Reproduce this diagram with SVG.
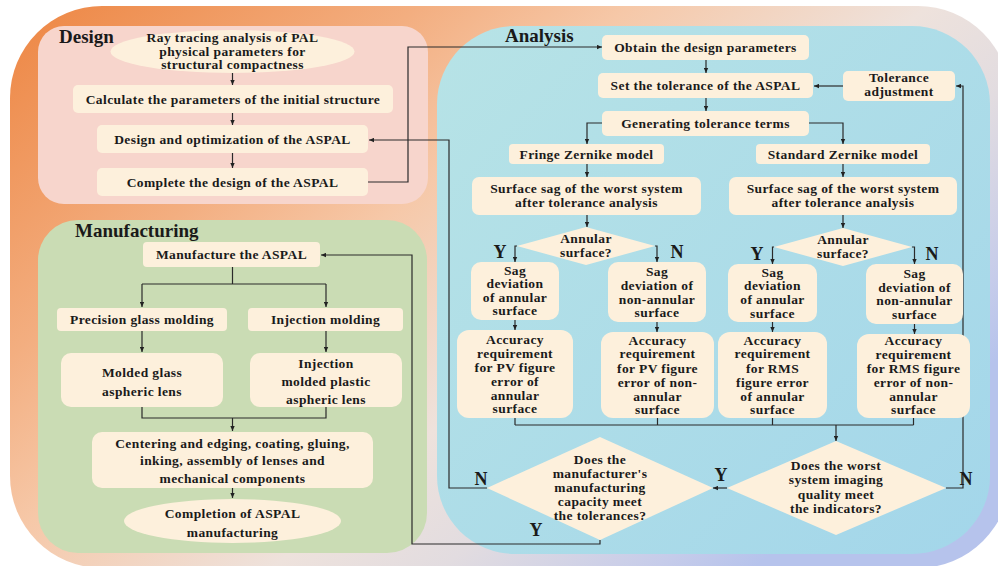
<svg xmlns="http://www.w3.org/2000/svg" width="998" height="566" viewBox="0 0 998 566">
<defs>
<linearGradient id="bg" gradientUnits="userSpaceOnUse" x1="0" y1="0" x2="600" y2="700">
<stop offset="0" stop-color="#ED8440"/>
<stop offset="0.3" stop-color="#F3AE80"/>
<stop offset="0.45" stop-color="#F6C8A8"/>
<stop offset="0.66" stop-color="#EEE2DC"/>
<stop offset="0.78" stop-color="#E2DCE0"/>
<stop offset="0.93" stop-color="#C6CCEA"/>
<stop offset="1" stop-color="#B6C3EC"/>
</linearGradient>
<linearGradient id="blue" gradientUnits="userSpaceOnUse" x1="437" y1="26" x2="990" y2="554">
<stop offset="0" stop-color="#B7E3E6"/>
<stop offset="1" stop-color="#A3D6EA"/>
</linearGradient>
<marker id="ah" viewBox="0 0 6 6" refX="6" refY="3" markerWidth="5" markerHeight="5" markerUnits="userSpaceOnUse" orient="auto">
<path d="M0,0.4 L6,3 L0,5.6 z" fill="#222"/>
</marker>
<style>
.nd{fill:#FDF0DC;}
.t{font-family:"Liberation Serif","Times New Roman",serif;font-weight:bold;font-size:13.5px;letter-spacing:0.4px;fill:#1a1a1a;text-anchor:middle;}
.h{font-family:"Liberation Serif","Times New Roman",serif;font-weight:bold;font-size:19px;fill:#1a1a1a;}
.yn{font-family:"Liberation Serif","Times New Roman",serif;font-weight:bold;font-size:18px;fill:#1a1a1a;text-anchor:middle;}
.c{fill:none;stroke:#2a2a2a;stroke-width:1.2;}
.a{fill:none;stroke:#2a2a2a;stroke-width:1.2;marker-end:url(#ah);}
</style>
</defs>

<rect x="10" y="6" width="1000" height="562" rx="92" fill="url(#bg)"/>
<rect id="panel-design" x="38" y="26" width="390" height="178" rx="26" fill="#F7D5CC"/>
<rect id="panel-manufacturing" x="38" y="220" width="389" height="333" rx="40" fill="#CADCB4"/>
<rect id="panel-analysis" x="437" y="26" width="553" height="528" rx="78" fill="url(#blue)"/>

<text class="h" x="59" y="43">Design</text>
<text class="h" x="75" y="237">Manufacturing</text>
<text class="h" x="505" y="42">Analysis</text>

<g id="connectors">
<path class="a" d="M232.5,73 V85"/>
<path class="a" d="M232.5,113 V125"/>
<path class="a" d="M232.5,153 V168"/>
<path class="a" d="M368,182 H408 V47 H602"/>
<path class="a" d="M487,488 H449 V140 H369"/>
<path class="a" d="M600,540 V544 H412 V255 H321"/>
<path class="c" d="M232.5,267 V284 M142,284 H326"/>
<path class="a" d="M142,284 V307"/>
<path class="a" d="M326,284 V307"/>
<path class="a" d="M142,331 V352"/>
<path class="a" d="M326,331 V352"/>
<path class="c" d="M142,407 V418 H326 V407"/>
<path class="a" d="M232.5,418 V431"/>
<path class="a" d="M232.5,488 V498"/>
<path class="a" d="M706,60 V73"/>
<path class="a" d="M706,98 V111"/>
<path class="a" d="M843,86 H814"/>
<path class="a" d="M946,488 H963 V86 H956"/>
<path class="a" d="M602,123 H587 V144"/>
<path class="a" d="M809,123 H843 V144"/>
<path class="a" d="M587,164 V177"/>
<path class="a" d="M843,164 V177"/>
<path class="a" d="M587,215 V227"/>
<path class="a" d="M843,215 V228"/>
<path class="a" d="M517,246 H515 V262"/>
<path class="a" d="M655,246 H657 V262"/>
<path class="a" d="M774,247 H772.5 V264"/>
<path class="a" d="M912,247 H914.5 V264"/>
<path class="a" d="M515,320 V330"/>
<path class="a" d="M657,322 V332"/>
<path class="a" d="M772.5,322 V332"/>
<path class="a" d="M914.5,324 V334"/>
<path class="c" d="M515,418 V425 M657.5,418 V425 M772.5,418 V425 M913.5,418 V425 M515,425 H913.5"/>
<path class="a" d="M836,425 V441"/>
<path class="a" d="M727,488 H713"/>
<text class="yn" x="500" y="258">Y</text>
<text class="yn" x="677" y="258">N</text>
<text class="yn" x="757" y="260">Y</text>
<text class="yn" x="932" y="260">N</text>
<text class="yn" x="481" y="485">N</text>
<text class="yn" x="721" y="481">Y</text>
<text class="yn" x="966" y="485">N</text>
<text class="yn" x="536" y="536">Y</text>
</g>

<g id="ray-tracing">
<ellipse class="nd" cx="232.5" cy="51.5" rx="122" ry="21.5"/>
<text class="t" x="232.5" y="42"><tspan x="232.5">Ray tracing analysis of PAL</tspan><tspan x="232.5" dy="13.5">physical parameters for</tspan><tspan x="232.5" dy="13.5">structural compactness</tspan></text>
</g>
<g id="calculate">
<rect class="nd" x="73" y="85" width="320" height="28" rx="5"/>
<text class="t" x="233" y="103.5">Calculate the parameters of the initial structure</text>
</g>
<g id="design-opt">
<rect class="nd" x="97" y="125" width="271" height="28" rx="5"/>
<text class="t" x="232.5" y="143.5">Design and optimization of the ASPAL</text>
</g>
<g id="complete-design">
<rect class="nd" x="97" y="168" width="271" height="28" rx="5"/>
<text class="t" x="232.5" y="186.5">Complete the design of the ASPAL</text>
</g>

<g id="manufacture">
<rect class="nd" x="143" y="242" width="177" height="25" rx="4"/>
<text class="t" x="231.5" y="259">Manufacture the ASPAL</text>
</g>
<g id="precision">
<rect class="nd" x="57" y="308" width="170" height="23" rx="4"/>
<text class="t" x="142" y="324">Precision glass molding</text>
</g>
<g id="injection">
<rect class="nd" x="248" y="308" width="155" height="23" rx="4"/>
<text class="t" x="325.5" y="324">Injection molding</text>
</g>
<g id="molded-glass">
<rect class="nd" x="61" y="353" width="162" height="54" rx="10"/>
<text class="t" x="142" y="376.5"><tspan x="142">Molded glass</tspan><tspan x="142" dy="19">aspheric lens</tspan></text>
</g>
<g id="molded-plastic">
<rect class="nd" x="250" y="353" width="152" height="54" rx="10"/>
<text class="t" x="326" y="367.5"><tspan x="326">Injection</tspan><tspan x="326" dy="18">molded plastic</tspan><tspan x="326" dy="18">aspheric lens</tspan></text>
</g>
<g id="centering">
<rect class="nd" x="92" y="432" width="281" height="56" rx="10"/>
<text class="t" x="232.5" y="447.5"><tspan x="232.5">Centering and edging, coating, gluing,</tspan><tspan x="232.5" dy="17.5">inking, assembly of lenses and</tspan><tspan x="232.5" dy="17.5">mechanical components</tspan></text>
</g>
<g id="completion">
<ellipse class="nd" cx="232.5" cy="521" rx="108.5" ry="22"/>
<text class="t" x="232.5" y="517.5"><tspan x="232.5">Completion of ASPAL</tspan><tspan x="232.5" dy="19">manufacturing</tspan></text>
</g>

<g id="obtain">
<rect class="nd" x="602" y="35" width="207" height="25" rx="5"/>
<text class="t" x="705.5" y="52">Obtain the design parameters</text>
</g>
<g id="set-tolerance">
<rect class="nd" x="598" y="73" width="215" height="25" rx="5"/>
<text class="t" x="705.5" y="90">Set the tolerance of the ASPAL</text>
</g>
<g id="tolerance-adjust">
<rect class="nd" x="843" y="71" width="112" height="30" rx="5"/>
<text class="t" x="899" y="81.5"><tspan x="899">Tolerance</tspan><tspan x="899" dy="14">adjustment</tspan></text>
</g>
<g id="generating">
<rect class="nd" x="602" y="111" width="207" height="25" rx="5"/>
<text class="t" x="705.5" y="128">Generating tolerance terms</text>
</g>
<g id="fringe">
<rect class="nd" x="509" y="144" width="155" height="20" rx="4"/>
<text class="t" x="586.5" y="158.5">Fringe Zernike model</text>
</g>
<g id="standard">
<rect class="nd" x="756" y="144" width="174" height="20" rx="4"/>
<text class="t" x="843" y="158.5">Standard Zernike model</text>
</g>
<g id="sag-left">
<rect class="nd" x="472" y="177" width="229" height="38" rx="7"/>
<text class="t" x="586.5" y="192.5"><tspan x="586.5">Surface sag of the worst system</tspan><tspan x="586.5" dy="14">after tolerance analysis</tspan></text>
</g>
<g id="sag-right">
<rect class="nd" x="729" y="177" width="228" height="38" rx="7"/>
<text class="t" x="843" y="192.5"><tspan x="843">Surface sag of the worst system</tspan><tspan x="843" dy="14">after tolerance analysis</tspan></text>
</g>
<g id="annular-left">
<polygon class="nd" points="586,227 655,246 586,265 517,246"/>
<text class="t" x="586" y="242.5"><tspan x="586">Annular</tspan><tspan x="586" dy="14">surface?</tspan></text>
</g>
<g id="annular-right">
<polygon class="nd" points="843,228 912,247 843,266 774,247"/>
<text class="t" x="843" y="243.5"><tspan x="843">Annular</tspan><tspan x="843" dy="14">surface?</tspan></text>
</g>
<g id="sagdev-1">
<rect class="nd" x="471" y="262" width="88" height="58" rx="10"/>
<text class="t" x="515" y="274.5"><tspan x="515">Sag</tspan><tspan x="515" dy="13.5">deviation</tspan><tspan x="515" dy="13.5">of annular</tspan><tspan x="515" dy="13.5">surface</tspan></text>
</g>
<g id="sagdev-2">
<rect class="nd" x="608" y="262" width="98" height="60" rx="10"/>
<text class="t" x="657" y="275.5"><tspan x="657">Sag</tspan><tspan x="657" dy="14">deviation of</tspan><tspan x="657" dy="14">non-annular</tspan><tspan x="657" dy="13.5">surface</tspan></text>
</g>
<g id="sagdev-3">
<rect class="nd" x="728" y="264" width="89" height="58" rx="10"/>
<text class="t" x="772.5" y="276.5"><tspan x="772.5">Sag</tspan><tspan x="772.5" dy="13.5">deviation</tspan><tspan x="772.5" dy="13.5">of annular</tspan><tspan x="772.5" dy="14">surface</tspan></text>
</g>
<g id="sagdev-4">
<rect class="nd" x="866" y="264" width="97" height="60" rx="10"/>
<text class="t" x="914.5" y="277.5"><tspan x="914.5">Sag</tspan><tspan x="914.5" dy="14">deviation of</tspan><tspan x="914.5" dy="13.5">non-annular</tspan><tspan x="914.5" dy="13.5">surface</tspan></text>
</g>
<g id="acc-1">
<rect class="nd" x="457" y="330" width="116" height="88" rx="12"/>
<text class="t" x="515" y="343.5"><tspan x="515">Accuracy</tspan><tspan x="515" dy="14">requirement</tspan><tspan x="515" dy="14">for PV figure</tspan><tspan x="515" dy="14">error of</tspan><tspan x="515" dy="14">annular</tspan><tspan x="515" dy="13.5">surface</tspan></text>
</g>
<g id="acc-2">
<rect class="nd" x="601" y="332" width="113" height="86" rx="12"/>
<text class="t" x="657.5" y="344.5"><tspan x="657.5">Accuracy</tspan><tspan x="657.5" dy="13.5">requirement</tspan><tspan x="657.5" dy="14.5">for PV figure</tspan><tspan x="657.5" dy="14">error of non-</tspan><tspan x="657.5" dy="14">annular</tspan><tspan x="657.5" dy="13.5">surface</tspan></text>
</g>
<g id="acc-3">
<rect class="nd" x="718" y="332" width="109" height="86" rx="12"/>
<text class="t" x="772.5" y="344.5"><tspan x="772.5">Accuracy</tspan><tspan x="772.5" dy="13.5">requirement</tspan><tspan x="772.5" dy="14.5">for RMS</tspan><tspan x="772.5" dy="14">figure error</tspan><tspan x="772.5" dy="14">of annular</tspan><tspan x="772.5" dy="13.5">surface</tspan></text>
</g>
<g id="acc-4">
<rect class="nd" x="857" y="334" width="113" height="84" rx="12"/>
<text class="t" x="913.5" y="345"><tspan x="913.5">Accuracy</tspan><tspan x="913.5" dy="13.5">requirement</tspan><tspan x="913.5" dy="14">for RMS figure</tspan><tspan x="913.5" dy="14">error of non-</tspan><tspan x="913.5" dy="14">annular</tspan><tspan x="913.5" dy="13.5">surface</tspan></text>
</g>
<g id="worst-quality">
<polygon class="nd" points="836,441 946,488 836,535 727,488"/>
<text class="t" x="836" y="469.5"><tspan x="836">Does the worst</tspan><tspan x="836" dy="14.5">system imaging</tspan><tspan x="836" dy="14.5">quality meet</tspan><tspan x="836" dy="14">the indicators?</tspan></text>
</g>
<g id="manufacturer-capacity">
<polygon class="nd" points="600,437 713,488 600,540 487,488"/>
<text class="t" x="600" y="463.5"><tspan x="600">Does the</tspan><tspan x="600" dy="14">manufacturer's</tspan><tspan x="600" dy="14">manufacturing</tspan><tspan x="600" dy="14">capacity meet</tspan><tspan x="600" dy="14">the tolerances?</tspan></text>
</g>
</svg>
